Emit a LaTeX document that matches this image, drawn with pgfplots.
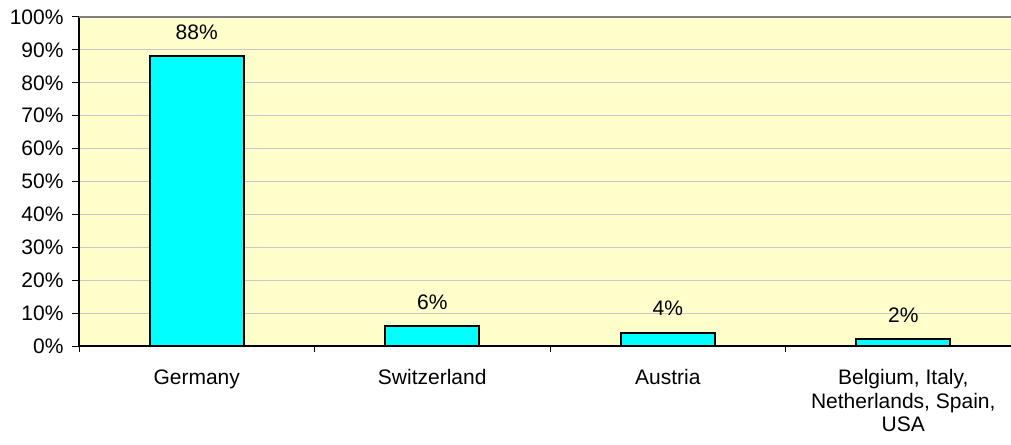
\documentclass[border=0pt]{standalone}
\usepackage{fontspec}
\setmainfont{Liberation Sans}
\usepackage{pgfplots}
\pgfplotsset{compat=1.18}
\definecolor{bg}{HTML}{FFFFCC}
\definecolor{gridc}{HTML}{C8C8C8}
\definecolor{barc}{HTML}{00FFFF}
\definecolor{topc}{HTML}{808080}
\newcommand{\lfont}{\fontsize{21}{23.5}\selectfont}
\begin{document}
\begin{tikzpicture}[x=1pt,y=1pt]
\begin{axis}[
  at={(79pt,98pt)}, anchor=south west,
  scale only axis, width=942pt, height=329pt,
  xmin=-0.5, xmax=3.5, ymin=0, ymax=100,
  ytick={0,10,...,100},
  yticklabel={\pgfmathprintnumber[assume math mode=true]{\tick}\%},
  xtick={0,1,2,3},
  xticklabels={Germany, Switzerland, Austria, {Belgium, Italy,\\Netherlands, Spain,\\USA}},
  minor xtick={-0.5,0.5,1.5,2.5,3.5},
  every major x tick/.append style={draw=none},
  tick align=outside,
  major tick length=7pt, minor tick length=6pt,
  tick style={black, line width=1pt},
  ymajorgrids, grid style={gridc, line width=1pt},
  axis x line*=bottom, axis y line*=left,
  axis line style={black, line width=1.2pt, -},
  axis background/.style={fill=bg},
  tick label style={font=\lfont},
  xticklabel style={align=center, yshift=-13pt},
  yticklabel style={xshift=-5pt},
  ybar, bar width=94pt,
  nodes near coords={\pgfmathprintnumber[assume math mode=true]{\pgfplotspointmeta}\%},
  every node near coord/.append style={font=\lfont, anchor=base, inner sep=0pt, yshift=17pt},
  clip=false,
]
\draw[topc, line width=2pt] (rel axis cs:0,1) -- (rel axis cs:1,1);
\addplot[fill=barc, draw=black, line width=2pt] coordinates {(0,88) (1,6) (2,4) (3,2)};
\end{axis}
\pgfresetboundingbox
\useasboundingbox (0,0) rectangle (1011pt,444pt);
\end{tikzpicture}
\end{document}
